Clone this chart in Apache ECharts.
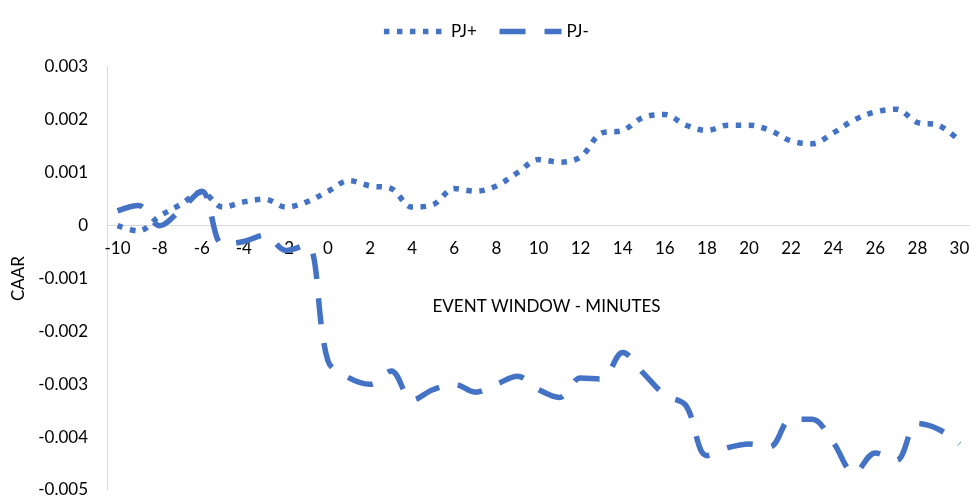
<!DOCTYPE html>
<html>
<head>
<meta charset="utf-8">
<script src="https://cdn.jsdelivr.net/npm/echarts@6/dist/echarts.min.js"></script>
<style>
html,body{margin:0;padding:0;background:#fff;}
#chart{width:970px;height:498px;}
</style>
</head>
<body>
<div id="chart"></div>
<script>
var categories = [-10,-9,-8,-7,-6,-5,-4,-3,-2,-1,0,1,2,3,4,5,6,7,8,9,10,11,12,13,14,15,16,17,18,19,20,21,22,23,24,25,26,27,28,29,30];
var pjPlus = [0.0000,-0.0001,0.00018,0.0004,0.00063,0.00035,0.00045,0.0005,0.00035,0.00045,
  0.00065,0.00085,0.00075,0.0007,0.00035,0.0004,0.0007,0.00065,0.00075,0.001,
  0.00125,0.0012,0.0013,0.00175,0.0018,0.00205,0.0021,0.0019,0.0018,0.0019,
  0.0019,0.0018,0.0016,0.00155,0.00175,0.002,0.00215,0.0022,0.00195,0.0019,0.0016];
var pjMinus = [0.00028,0.00038,0.0,0.0003,0.00065,-0.00036,-0.0003,-0.00018,-0.00047,-0.00036,
  -0.00256,-0.00288,-0.003,-0.00275,-0.0033,-0.0031,-0.003,-0.00315,-0.003,-0.00285,
  -0.0031,-0.00325,-0.00288,-0.0029,-0.0024,-0.0028,-0.0032,-0.0034,-0.00435,-0.0042,
  -0.00413,-0.00418,-0.00366,-0.00366,-0.0041,-0.00468,-0.0043,-0.00444,-0.00374,-0.00385,-0.00413];
var seriesNames = ['PJ+','PJ-'];
var yMin = -0.005, yMax = 0.003, yStep = 0.001;

var chart = echarts.init(document.getElementById('chart'), null, {renderer:'canvas'});
var font = 'Lato, "Liberation Sans", sans-serif';
var gridTop = 67, gridBottom = 8, H = 498;
var plotH = H - gridTop - gridBottom;
var zeroOffset = -plotH * (0 - yMin) / (yMax - yMin);
var dotStyle = {color:'#4472C4',width:5.5,type:[5.5,7.5],cap:'butt',opacity:1};
var dashStyle = {color:'#4472C4',width:5.5,type:[26,19],cap:'butt',opacity:1};
chart.setOption({
  animation:false,
  textStyle:{fontFamily:font},
  legend:{
    top:18, left:'center',
    itemWidth:62, itemHeight:14, itemGap:20,
    textStyle:{fontSize:17,color:'#000',fontFamily:font},
    itemStyle:{opacity:0},
    data:[
      {name:seriesNames[0],lineStyle:dotStyle,itemStyle:{opacity:0}},
      {name:seriesNames[1],lineStyle:dashStyle,itemStyle:{opacity:0}}
    ]
  },
  grid:{left:107,right:0,top:gridTop,bottom:gridBottom,outerBoundsMode:'none',containLabel:false},
  xAxis:{
    type:'category',
    data:categories,
    boundaryGap:true,
    position:'bottom',
    offset:zeroOffset,
    name:'EVENT WINDOW - MINUTES',
    nameLocation:'middle',
    nameGap:72,
    nameTextStyle:{fontSize:17,color:'#000',fontFamily:font,padding:[0,0,0,16]},
    axisLine:{onZero:false,lineStyle:{color:'#d9d9d9',width:1}},
    axisTick:{show:false},
    axisLabel:{interval:1,fontSize:17,color:'#000',margin:14,fontFamily:font}
  },
  yAxis:{
    type:'value',
    min:yMin,max:yMax,interval:yStep,
    name:'CAAR',
    nameLocation:'middle',
    nameGap:80,
    nameTextStyle:{fontSize:17,color:'#000',fontFamily:font},
    axisLine:{show:true,lineStyle:{color:'#d9d9d9',width:1}},
    axisTick:{show:false},
    splitLine:{show:false},
    axisLabel:{fontSize:17,color:'#000',margin:19,fontFamily:font}
  },
  series:[
    {name:seriesNames[0],type:'line',data:pjPlus,smooth:0.35,symbol:'none',
     lineStyle:dotStyle,itemStyle:{color:'#4472C4'}},
    {name:seriesNames[1],type:'line',data:pjMinus,smooth:0.35,symbol:'none',
     lineStyle:dashStyle,itemStyle:{color:'#4472C4'}}
  ]
});
</script>
</body>
</html>
